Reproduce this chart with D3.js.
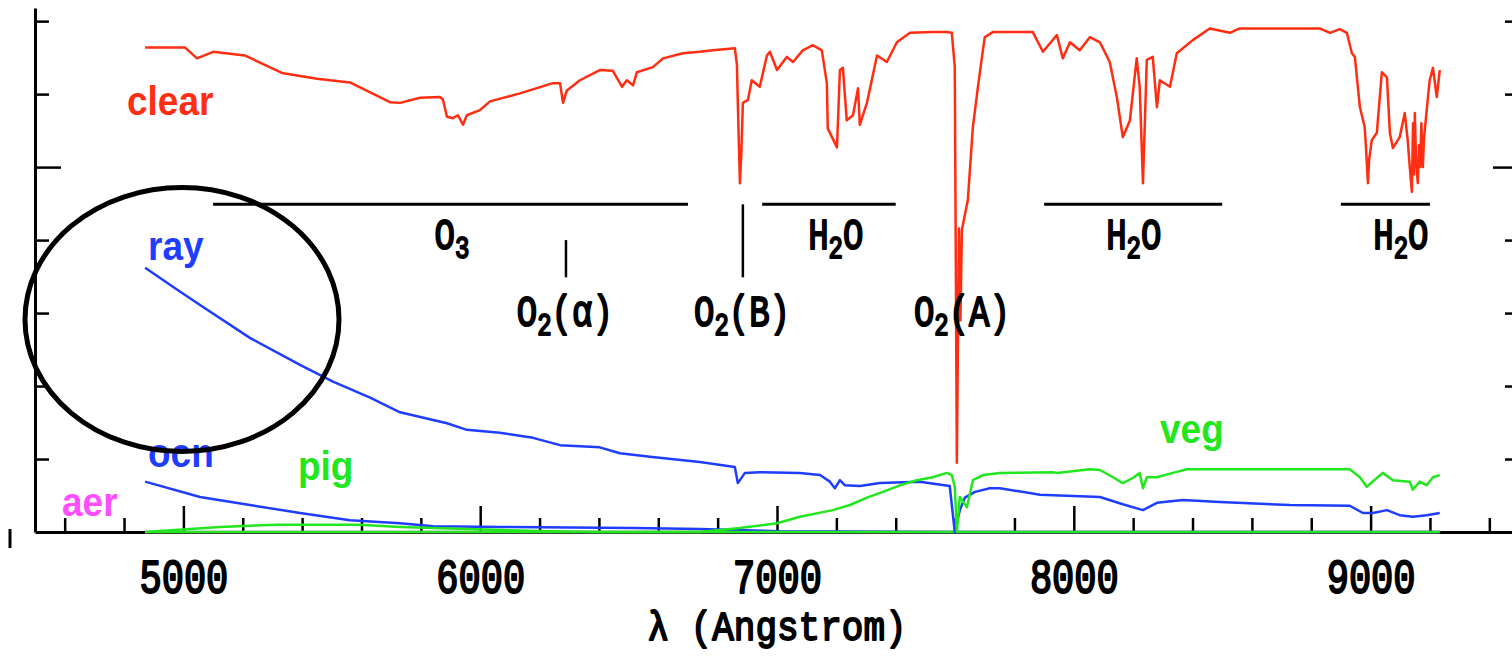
<!DOCTYPE html>
<html><head><meta charset="utf-8">
<script src="https://cdn.jsdelivr.net/npm/d3@7"></script>
<style>html,body{margin:0;padding:0;background:#fff;overflow:hidden}</style>
</head><body>
<svg id="c" width="1512" height="656"></svg>
<script>
// ---------- data (wavelength in Angstrom, value in axis units) ----------
const clearWl = [4871,5005,5046,5100,5207,5332,5450,5561,5696,5730,5797,5864,5874,5888,5908,5925,5942,5955,5999,6033,6134,6245,6269,6279,6292,6336,6403,6447,6478,6494,6515,6528,6582,6616,6683,6740,6784,6858,6865,6868,6875,6880,6885,6902,6915,6942,6966,6976,7000,7033,7054,7087,7121,7151,7168,7171,7202,7212,7222,7235,7256,7273,7279,7303,7337,7370,7404,7448,7525,7572,7589,7599,7606,7613,7618,7623,7643,7660,7677,7690,7700,7727,7862,7896,7943,7963,7987,8020,8054,8088,8121,8145,8165,8189,8212,8222,8233,8246,8266,8280,8290,8324,8347,8401,8458,8526,8559,8829,8863,8896,8920,8937,8947,8957,8964,8980,8984,8988,8991,8995,9004,9021,9038,9055,9065,9075,9098,9115,9125,9132,9139,9143,9146,9149,9153,9159,9163,9167,9171,9176,9180,9189,9199,9210,9223,9233];
const clearVal = [6.64,6.64,6.49,6.58,6.53,6.29,6.21,6.16,5.89,5.88,5.95,5.96,5.93,5.69,5.67,5.71,5.58,5.71,5.78,5.90,6.01,6.15,6.15,5.88,6.05,6.19,6.33,6.32,6.10,6.19,6.12,6.30,6.37,6.49,6.56,6.58,6.60,6.63,6.40,5.88,4.78,5.20,5.88,5.92,6.19,6.10,6.53,6.58,6.33,6.51,6.44,6.60,6.67,6.60,6.15,5.53,5.27,6.33,6.36,5.64,5.71,6.08,5.58,5.88,6.53,6.44,6.71,6.84,6.85,6.85,6.84,6.37,0.95,4.16,2.90,4.14,4.55,5.55,6.10,6.49,6.78,6.85,6.85,6.58,6.81,6.49,6.71,6.60,6.78,6.71,6.44,5.96,5.41,5.64,6.49,6.10,4.78,6.47,6.51,5.82,6.19,6.10,6.56,6.74,6.90,6.84,6.90,6.90,6.84,6.89,6.84,6.56,6.51,6.10,5.82,5.55,5.30,5.00,4.78,5.10,5.37,5.47,6.30,6.23,5.47,5.26,5.41,5.74,5.37,5.00,4.66,5.60,4.90,5.74,5.10,4.78,5.30,5.00,5.60,5.00,5.40,5.78,6.19,6.36,5.96,6.33];

const rayWl  = [4871,4972,5056,5224,5393,5504,5629,5730,5888,5955,6066,6178,6269,6403,6471,6572,6740,6858,6868,6892,6942,7077,7145,7178,7195,7212,7229,7279,7347,7481,7582,7599,7616,7633,7667,7717,7751,7886,8088,8165,8233,8280,8367,8492,8728,8930,8974,9008,9055,9098,9142,9189,9233];
const rayVal = [3.62,3.34,3.11,2.66,2.29,2.06,1.84,1.64,1.49,1.40,1.36,1.29,1.19,1.16,1.08,1.03,0.96,0.89,0.67,0.81,0.82,0.81,0.78,0.69,0.60,0.71,0.64,0.63,0.67,0.69,0.63,0.00,0.30,0.47,0.55,0.60,0.60,0.51,0.48,0.38,0.30,0.40,0.44,0.41,0.37,0.36,0.26,0.26,0.30,0.23,0.21,0.23,0.26];

const ocnWl  = [4871,5056,5224,5393,5561,5730,5841,6066,6515,6740,7010,7599,8000,9000,9233];
const ocnVal = [0.69,0.48,0.37,0.26,0.16,0.12,0.08,0.07,0.055,0.04,0.01,0.0,0.0,0.0,0.0];

const pigWl  = [4871,5123,5315,5595,5730,5955,6235,6403,7000,8000,9233];
const pigVal = [0.0,0.07,0.10,0.10,0.07,0.04,0.01,0.0,0.0,0.0,0.0];

const aerWl  = [4871,6000,7000,8000,9233];
const aerVal = [0.0,0.0,0.0,0.0,0.0];

const vegWl  = [4871,6740,6875,7000,7077,7188,7246,7303,7357,7414,7471,7525,7572,7589,7599,7606,7616,7640,7660,7694,7751,7929,7943,8054,8088,8132,8165,8199,8222,8233,8246,8280,8334,8381,8930,8964,8987,9041,9075,9132,9142,9166,9189,9210,9233];
const vegVal = [0.0,0.0,0.055,0.12,0.21,0.30,0.37,0.47,0.55,0.64,0.71,0.75,0.81,0.78,0.62,0.0,0.48,0.34,0.71,0.78,0.81,0.82,0.81,0.86,0.85,0.75,0.67,0.74,0.81,0.60,0.75,0.75,0.81,0.86,0.86,0.75,0.62,0.81,0.71,0.69,0.58,0.69,0.64,0.75,0.78];

const xMajorTicks = [5000,6000,7000,8000,9000];
const xTickLabels = ["5000","6000","7000","8000","9000"];
const xMinorTicks = [4600,4800,5200,5400,5600,5800,6200,6400,6600,6800,7200,7400,7600,7800,8200,8400,8600,8800,9200,9400];
const yMinorTicks = [1,2,3,4,6,7];
const yMajorTicks = [5];

// absorption band bars (wavelength ranges) and markers
const bandStart = [5100,6950,7900,8900];
const bandEnd   = [6700,7400,8500,9200];
const bandLabels = ["O3","H2O","H2O","H2O"];
const bandLabelWl = [5905,7198,8202,9102];
const lineMarkWl = [6289,6885];
const lineMarkTop = [4.0,4.49];
const lineLabels = ["O2(α)","O2(B)","O2(A)"];
const lineLabelWl = [6285,6882,7623];

const seriesNames = ["clear","ray","ocn","pig","aer","veg"];

// ---------- drawing ----------
const svg = d3.select("#c");
const x = d3.scaleLinear().domain([4500,9500]).range([35,1519]);
const y = d3.scaleLinear().domain([0,7.18]).range([532,8]);

const RED="#ff2d12", BLUE="#1f3dff", GREEN="#22e61e", MAG="#ff4dff";
const monoFont = "'Liberation Mono','Courier New',Courier,'Liberation Serif',serif";
const sansFont = "'Liberation Sans',Arial,sans-serif";

function styleAxis(g){
  g.selectAll(".domain").attr("stroke","#000").attr("stroke-width",3);
  g.selectAll(".tick line").attr("stroke","#000").attr("stroke-width",2.5);
}
function monoText(sel, size){
  sel.attr("font-family",monoFont).attr("font-weight","normal").attr("font-size",size)
     .attr("fill","#000").attr("stroke","#000").attr("stroke-width",1.6)
     .attr("stroke-linejoin","round");
}

// bottom axis
const gxMin = svg.append("g").attr("transform","translate(0,532)")
  .call(d3.axisBottom(x).tickValues(xMinorTicks).tickSizeInner(-14).tickSizeOuter(0).tickFormat(""));
styleAxis(gxMin);
const gxMaj = svg.append("g").attr("transform","translate(0,532)")
  .call(d3.axisBottom(x).tickValues(xMajorTicks).tickSizeInner(-26).tickSizeOuter(0)
        .tickFormat((d,i)=>xTickLabels[i]));
styleAxis(gxMaj);
gxMaj.select(".domain").remove();
gxMaj.selectAll("text").attr("y",0).attr("dy",null)
  .attr("transform","translate(0,61) scale(1,1.3)");
monoText(gxMaj.selectAll("text"), 37);

// left axis
const gyL = svg.append("g").attr("transform","translate(35,0)")
  .call(d3.axisLeft(y).tickValues(yMinorTicks).tickSizeInner(-14).tickSizeOuter(0).tickFormat(""));
styleAxis(gyL);
const gyL2 = svg.append("g").attr("transform","translate(35,0)")
  .call(d3.axisLeft(y).tickValues(yMajorTicks).tickSizeInner(-26).tickSizeOuter(0).tickFormat(""));
styleAxis(gyL2); gyL2.select(".domain").remove();

// right axis
const gyR = svg.append("g").attr("transform","translate(1519,0)")
  .call(d3.axisRight(y).tickValues(yMinorTicks).tickSizeInner(-14).tickSizeOuter(0).tickFormat(""));
styleAxis(gyR);
const gyR2 = svg.append("g").attr("transform","translate(1519,0)")
  .call(d3.axisRight(y).tickValues(yMajorTicks).tickSizeInner(-26).tickSizeOuter(0).tickFormat(""));
styleAxis(gyR2); gyR2.select(".domain").remove();

// x axis title
monoText(svg.append("text").attr("transform","translate(777,640) scale(1,1.15)")
  .attr("text-anchor","middle").text("λ (Angstrom)"), 36);

// series
const line = d3.line().x(d=>x(d[0])).y(d=>y(d[1]));
function drawSeries(wl,val,color){
  svg.append("path").datum(d3.zip(wl,val)).attr("d",line)
    .attr("fill","none").attr("stroke",color).attr("stroke-width",2.5)
    .attr("stroke-linejoin","round");
}
drawSeries(aerWl,aerVal,MAG);
drawSeries(ocnWl,ocnVal,BLUE);
drawSeries(pigWl,pigVal,GREEN);
drawSeries(rayWl,rayVal,BLUE);
drawSeries(vegWl,vegVal,GREEN);
drawSeries(clearWl,clearVal,RED);

// series labels
const labelPos = [[127,115,RED],[148,260,BLUE],[148,467,BLUE],[298,480,GREEN],[62,516,MAG],[1160,443,GREEN]];
seriesNames.forEach((n,i)=>{
  const p = labelPos[i];
  svg.append("text").attr("transform",`translate(${p[0]},${p[1]}) scale(1,1.12)`)
    .attr("font-family",sansFont).attr("font-weight","bold").attr("font-size",37)
    .attr("fill",p[2]).text(n);
});

// band annotations
const bandY = 4.49;
bandStart.forEach((s,i)=>{
  svg.append("line").attr("x1",x(s)).attr("x2",x(bandEnd[i]))
    .attr("y1",y(bandY)).attr("y2",y(bandY)).attr("stroke","#000").attr("stroke-width",3);
});
lineMarkWl.forEach((w,i)=>{
  svg.append("line").attr("x1",x(w)).attr("x2",x(w))
    .attr("y1",y(lineMarkTop[i])).attr("y2",y(3.49)).attr("stroke","#000").attr("stroke-width",2.5);
});
function chemLabel(str, cx, by){
  const m = str.match(/^([A-Z]+)(\d)(.*)$/);
  const t = svg.append("text").attr("transform",`translate(${cx},${by}) scale(1,1.3)`)
    .attr("text-anchor","middle");
  monoText(t, 34);
  t.append("tspan").text(m[1]);
  t.append("tspan").attr("font-size",24).attr("dy",7).text(m[2]);
  t.append("tspan").attr("dy",-7).text(m[3] || "");
}
bandLabels.forEach((l,i)=>chemLabel(l, x(bandLabelWl[i]), 249));
lineLabels.forEach((l,i)=>chemLabel(l, x(lineLabelWl[i]), 326));

// hand-drawn highlight ellipse and stray mark
svg.append("ellipse").attr("cx",182).attr("cy",319.5).attr("rx",157).attr("ry",132)
  .attr("fill","none").attr("stroke","#000").attr("stroke-width",5);
svg.append("line").attr("x1",10).attr("x2",10).attr("y1",529).attr("y2",548)
  .attr("stroke","#000").attr("stroke-width",3);
</script>
</body></html>
